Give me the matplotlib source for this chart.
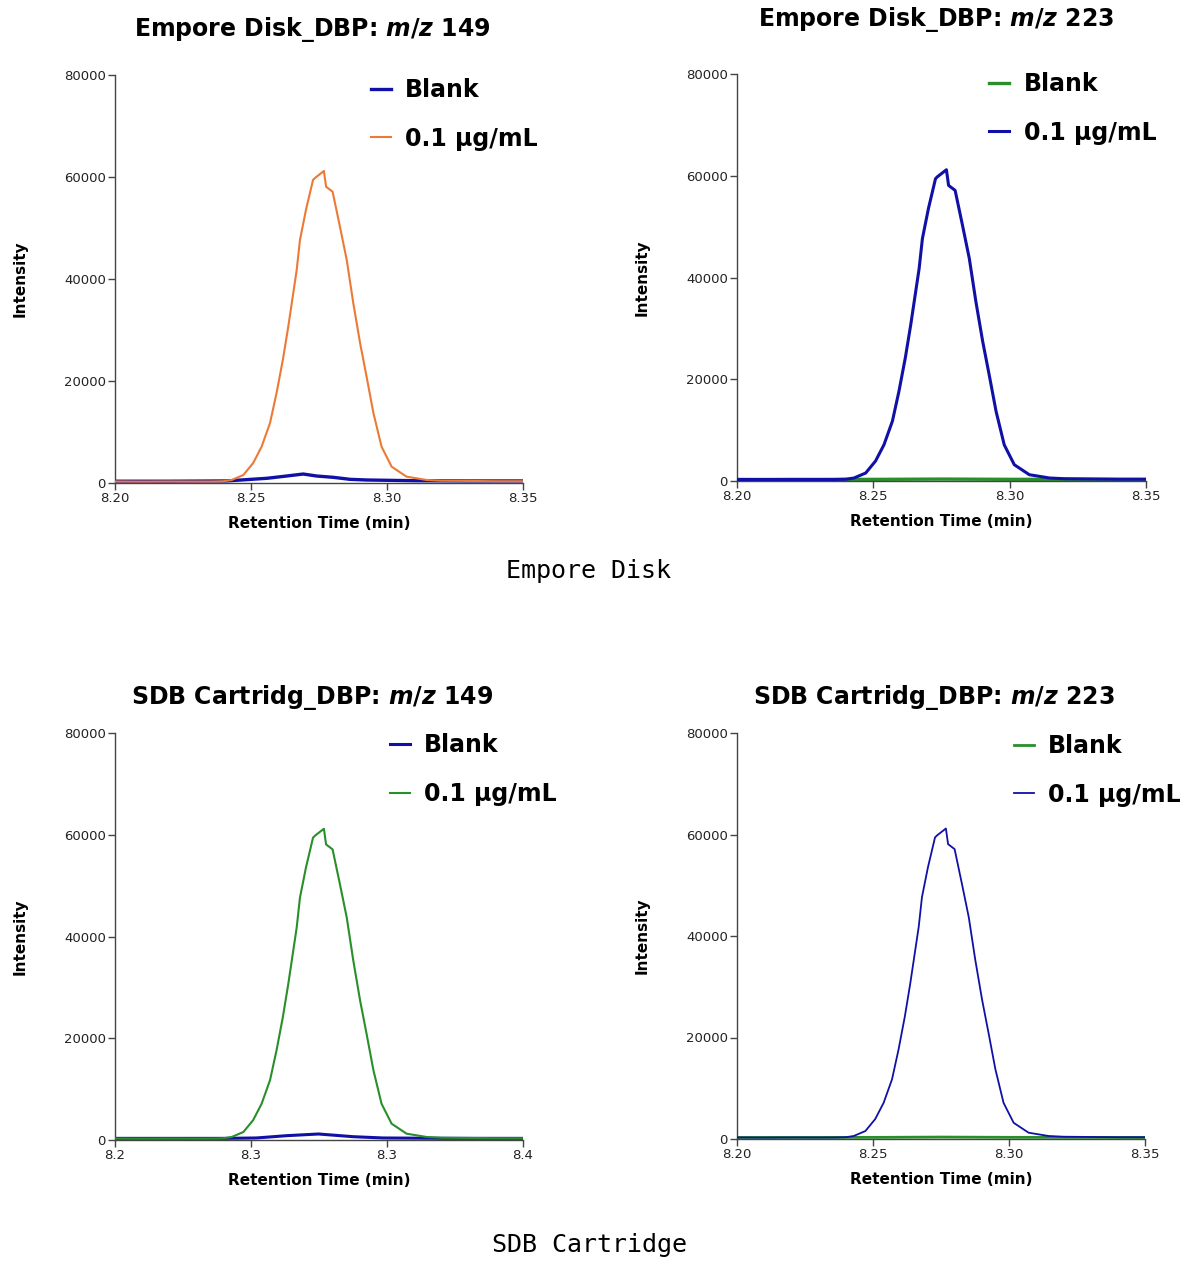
import matplotlib
matplotlib.use("Agg")
import matplotlib.pyplot as plt

plt.rcParams['font.family'] = ['DejaVu Sans']
plt.rcParams['mathtext.fontset'] = 'custom'
plt.rcParams['mathtext.it'] = 'DejaVu Sans:italic:bold'
plt.rcParams['mathtext.rm'] = 'DejaVu Sans:bold'

# ---------------- data ----------------
# 0.1 ug/mL DBP trace (retention time in min, intensity)
rt_std = [8.200, 8.210, 8.220, 8.230, 8.236, 8.240, 8.2429, 8.2472, 8.2508, 8.2539,
          8.2570, 8.2594, 8.2617, 8.2637, 8.2668, 8.2680, 8.2702, 8.2728, 8.2735,
          8.2768, 8.2776, 8.2800, 8.2827, 8.2852, 8.2876, 8.2901, 8.2925, 8.2950,
          8.2980, 8.3017, 8.3072, 8.3146, 8.320, 8.330, 8.340, 8.350]
int_std = [300, 280, 300, 290, 300, 350, 590, 1570, 3920, 7120,
           11770, 17650, 24120, 30650, 41770, 47650, 53540, 59420, 59800,
           61180, 58100, 57120, 50260, 43730, 35300, 27450, 20840, 13730,
           7120, 3200, 1240, 590, 450, 400, 350, 350]

# Blank, Empore Disk m/z 149
rt_blank_ed149 = [8.200, 8.220, 8.241, 8.2558, 8.2631, 8.2692, 8.2741, 8.2803, 8.2864,
                  8.2925, 8.310, 8.330, 8.350]
int_blank_ed149 = [350, 350, 400, 920, 1370, 1760, 1370, 1110, 720, 590, 450, 400, 400]

# Blank, SDB cartridge m/z 149
rt_blank_sdb149 = [8.200, 8.240, 8.252, 8.2631, 8.2748, 8.2876, 8.2985, 8.320, 8.350]
int_blank_sdb149 = [320, 320, 400, 850, 1180, 650, 400, 330, 320]

# Blank, m/z 223 (flat)
rt_blank_223 = [8.200, 8.250, 8.275, 8.300, 8.350]
int_blank_223 = [300, 320, 380, 330, 300]

y_ticks = [0, 20000, 40000, 60000, 80000]
y_ticklabels = ["0", "20000", "40000", "60000", "80000"]
x_ticks = [8.20, 8.25, 8.30, 8.35]
x_ticklabels_2d = ["8.20", "8.25", "8.30", "8.35"]
x_ticklabels_1d = ["8.2", "8.3", "8.3", "8.4"]

titles = [r"Empore Disk_DBP: $\mathit{m/z}$ 149",
          r"Empore Disk_DBP: $\mathit{m/z}$ 223",
          r"SDB Cartridg_DBP: $\mathit{m/z}$ 149",
          r"SDB Cartridg_DBP: $\mathit{m/z}$ 223"]
legend_labels = ["Blank", "0.1 \u03bcg/mL"]
captions = ["Empore Disk", "SDB Cartridge"]

ORANGE = '#EC7A35'
BLUE = '#1010A6'
GREEN = '#288F2A'

W, H = 1182, 1262
fig = plt.figure(figsize=(W / 100, H / 100), dpi=100)


def make_ax(x0, y_top, x1, y_bot):
    return fig.add_axes([x0 / W, 1 - y_bot / H, (x1 - x0) / W, (y_bot - y_top) / H])


panels = [
    dict(box=(115, 75, 523, 483), title_xy=(312, 30), xt=x_ticklabels_2d,
         blank=(rt_blank_ed149, int_blank_ed149, BLUE, 2.4),
         std=(ORANGE, 1.5), leg=(0.627, 0.993)),
    dict(box=(737, 74, 1146, 481), title_xy=(936, 20), xt=x_ticklabels_2d,
         blank=(rt_blank_223, int_blank_223, GREEN, 2.4),
         std=(BLUE, 2.2), leg=(0.617, 1.005)),
    dict(box=(115, 733, 523, 1140), title_xy=(312, 697), xt=x_ticklabels_1d,
         blank=(rt_blank_sdb149, int_blank_sdb149, BLUE, 2.2),
         std=(GREEN, 1.5), leg=(0.673, 1.0)),
    dict(box=(737, 733, 1145, 1139), title_xy=(934, 697), xt=x_ticklabels_2d,
         blank=(rt_blank_223, int_blank_223, GREEN, 2.0),
         std=(BLUE, 1.3), leg=(0.678, 0.998)),
]

for i, p in enumerate(panels):
    ax = make_ax(*p['box'])
    rb, ib, cb, lwb = p['blank']
    cs, lws = p['std']
    ax.plot(rb, ib, color=cb, lw=lwb, label=legend_labels[0], zorder=2)
    ax.plot(rt_std, int_std, color=cs, lw=lws, label=legend_labels[1], zorder=3)
    ax.set_xlim(8.20, 8.35)
    ax.set_ylim(0, 80000)
    ax.set_xticks(x_ticks)
    ax.set_xticklabels(p['xt'])
    ax.set_yticks(y_ticks)
    ax.set_yticklabels(y_ticklabels)
    for s in ['top', 'right']:
        ax.spines[s].set_visible(False)
    for s in ['left', 'bottom']:
        ax.spines[s].set_color('#444444')
        ax.spines[s].set_linewidth(1.0)
    ax.tick_params(direction='out', length=5, width=1, color='#444444',
                   labelsize=9.5, pad=1.5, labelcolor='#222222')
    ax.set_ylabel("Intensity", fontsize=11, fontweight='bold')
    ax.yaxis.set_label_coords(-0.213, 0.5)
    ax.set_xlabel("Retention Time (min)", fontsize=11, fontweight='bold')
    ax.xaxis.set_label_coords(0.5, -0.082)
    ax.legend(loc='upper left', bbox_to_anchor=p['leg'], frameon=False,
              prop={'size': 17, 'weight': 'bold'}, handlelength=0.85,
              handletextpad=0.6, labelspacing=1.05, borderpad=0,
              borderaxespad=0)
    tx, ty = p['title_xy']
    fig.text(tx / W, 1 - ty / H, titles[i], fontsize=17, fontweight='bold',
             ha='center', va='center')

fig.text(589 / W, 1 - 571 / H, captions[0], family='DejaVu Sans Mono',
         fontsize=18, ha='center', va='center')
fig.text(589 / W, 1 - 1245 / H, captions[1], family='DejaVu Sans Mono',
         fontsize=18, ha='center', va='center')

fig.savefig("out.png", dpi=100)
